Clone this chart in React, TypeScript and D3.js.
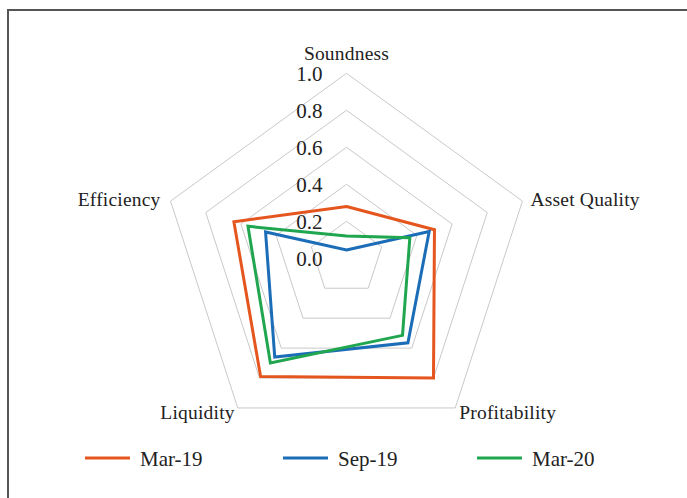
import * as d3 from 'd3';
import { useEffect } from 'react';

const categories = ['Soundness', 'Asset Quality', 'Profitability', 'Liquidity', 'Efficiency'];
const seriesNames = ['Mar-19', 'Sep-19', 'Mar-20'];
const mar19 = [0.28, 0.5, 0.8, 0.79, 0.64];
const sep19 = [0.045, 0.47, 0.565, 0.66, 0.46];
const mar20 = [0.12, 0.36, 0.515, 0.7, 0.56];
const tickValues = [0.0, 0.2, 0.4, 0.6, 0.8, 1.0];
const colors = ['#e5561f', '#1c6db7', '#1fa64f'];

const width = 687;
const height = 498;
const cx = 346.5;
const cy = 258.3;
const radius = 185;
const font = '"Liberation Serif", "Times New Roman", serif';

const App = () => {
  useEffect(() => {
    document.body.style.margin = '0';
  }, []);

  const r = d3.scaleLinear().domain([0, 1]).range([0, radius]);
  const angle = d3
    .scalePoint()
    .domain(categories)
    .range([0, (2 * Math.PI * (categories.length - 1)) / categories.length]);

  const radar = d3
    .lineRadial<number>()
    .angle((_, i) => angle(categories[i]) as number)
    .radius((d) => r(d))
    .curve(d3.curveLinearClosed);

  const ring = (v: number) => radar(categories.map(() => v)) as string;

  const vertex = (c: string, v: number) => {
    const a = angle(c) as number;
    return [cx + r(v) * Math.sin(a), cy - r(v) * Math.cos(a)];
  };

  const series = [mar19, sep19, mar20];

  const labelPos: Record<string, { dx: number; dy: number; anchor: string }> = {
    Soundness: { dx: 0, dy: -20, anchor: 'middle' },
    'Asset Quality': { dx: 8, dy: -2, anchor: 'start' },
    Profitability: { dx: 4, dy: 4, anchor: 'start' },
    Liquidity: { dx: -3, dy: 4, anchor: 'end' },
    Efficiency: { dx: -10, dy: -2, anchor: 'end' },
  };

  const legendX = [85, 283, 477];

  return (
    <svg width={width} height={height} style={{ display: 'block', background: '#fff' }}>
      <path d={`M8,${height} V10 H${width}`} fill="none" stroke="#555" strokeWidth={2} />
      <g transform={`translate(${cx},${cy})`}>
        {tickValues.filter((t) => t > 0).map((t) => (
          <path key={t} d={ring(t)} fill="none" stroke="#c9c9c9" strokeWidth={1} />
        ))}
      </g>
      {tickValues.map((t) => (
        <text
          key={t}
          x={cx - 24}
          y={cy - r(t)}
          dy="0.36em"
          textAnchor="end"
          fontFamily={font}
          fontSize={21}
          fill="#222"
        >
          {t.toFixed(1)}
        </text>
      ))}
      <g transform={`translate(${cx},${cy})`}>
        {series.map((s, i) => (
          <path
            key={seriesNames[i]}
            d={radar(s) as string}
            fill="none"
            stroke={colors[i]}
            strokeWidth={3}
            strokeLinejoin="miter"
          />
        ))}
      </g>
      {categories.map((c) => {
        const [x, y] = vertex(c, 1);
        const p = labelPos[c];
        return (
          <text
            key={c}
            x={x + p.dx}
            y={y + p.dy}
            dy="0.35em"
            textAnchor={p.anchor}
            fontFamily={font}
            fontSize={19.5}
            letterSpacing={0.2}
            fill="#222"
          >
            {c}
          </text>
        );
      })}
      {seriesNames.map((n, i) => (
        <g key={n} transform={`translate(${legendX[i]},458)`}>
          <line x1={0} x2={45} y1={0} y2={0} stroke={colors[i]} strokeWidth={3} />
          <text x={55} y={0} dy="0.36em" fontFamily={font} fontSize={21} fill="#222">
            {n}
          </text>
        </g>
      ))}
    </svg>
  );
};

export default App;
